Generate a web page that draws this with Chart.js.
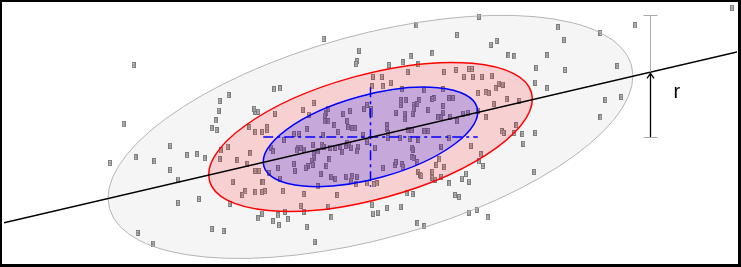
<!DOCTYPE html>
<html>
<head>
<meta charset="utf-8">
<script src="https://cdn.jsdelivr.net/npm/chart.js@4/dist/chart.umd.min.js"></script>
<style>
  html, body { margin: 0; padding: 0; background: #ffffff; }
  #wrap { position: relative; width: 741px; height: 267px; }
</style>
</head>
<body>
<div id="wrap"><canvas id="c"></canvas></div>
<script>
// ---- data ----
const pointX = [480,417,458,492,498,510,516,538,433,411,403,389,419,560,566,549,567,323,359,357,
  131,227,218,217,214,210,215,121,107,133,152,168,168,135,151,176,176,197,185,195,
  203,219,226,249,218,236,246,254,258,231,261,244,241,254,261,264,228,257,261,268,
  277,272,278,284,287,300,303,328,331,306,314,210,222,603,638,620,624,608,603,736,
  537,549,483,493,500,504,497,487,490,508,521,495,487,518,503,505,516,524,537,525,
  356,408,445,457,470,473,465,474,479,373,382,391,372,383,402,425,444,454,450,435,
  420,406,401,401,414,418,429,444,414,413,396,405,405,444,439,442,451,458,464,469,
  479,367,364,371,371,350,343,326,324,328,313,302,308,324,334,347,348,352,355,338,
  363,387,387,388,408,412,425,429,450,400,388,410,419,306,298,293,283,322,321,312,
  303,297,300,296,317,323,330,335,340,346,347,349,351,358,357,367,375,342,313,313,
  311,312,307,305,293,294,277,326,329,331,335,320,346,352,357,412,413,442,412,414,
  418,395,396,402,383,403,419,421,422,433,437,440,445,442,433,436,472,374,377,367,
  356,351,337,317,303,282,279,262,254,261,266,266,254,257,274,273,279,253,270,272,
  328,433,480,482,484,467,470,463,450,456,413,407,536,460,478,470,489,418,425,372,
  373,378,387,401,248];
const pointY = [254,245,235,225,229,214,213,201,216,213,207,204,205,243,230,214,199,231,219,208,
  204,173,167,157,147,139,137,143,103,109,105,121,96,31,20,86,62,66,111,112,
  108,116,120,113,107,106,102,95,95,84,84,74,70,73,73,74,61,46,51,93,
  49,43,39,53,45,59,53,58,47,37,22,35,33,237,245,203,171,168,150,263,
  186,180,192,193,185,184,180,176,175,169,167,164,150,142,136,134,134,133,134,123,
  205,197,197,199,200,200,192,192,175,192,192,186,182,182,179,178,179,170,170,170,
  168,168,168,163,163,164,158,162,159,154,155,154,148,155,150,150,151,146,154,155,
  157,163,159,159,154,157,154,155,152,159,165,158,153,146,142,146,140,139,139,135,
  132,142,138,134,137,137,136,136,129,129,129,128,127,138,133,133,127,132,122,122,
  117,119,119,116,115,120,119,119,120,121,124,122,119,120,115,125,119,114,112,108,
  105,101,100,98,102,95,98,100,107,89,87,92,89,90,89,119,117,120,109,108,
  104,101,104,102,98,99,94,91,90,94,101,107,99,89,88,86,121,81,82,82,
  81,85,70,79,71,74,87,83,135,135,137,140,156,156,154,179,180,159,119,115,
  146,169,105,112,100,92,84,87,82,70,71,72,94,68,55,52,47,41,38,60,
  51,52,57,58,140];

// ellipse parameters: [outer, middle, inner]
const ellipseCenter = [370.5, 130];
const ellipseSemiMajor = [274, 169, 112];
const ellipseSemiMinor = [105, 64, 43];
const ellipseAngleDeg = [15.7, 15.7, 15.7];
const ellipseFill = ['rgba(0,0,0,0.04)', 'rgba(255,0,0,0.15)', 'rgba(0,0,255,0.2)'];
const ellipseStroke = ['#b4b4b4', '#ff0000', '#0000ff'];

// regression line y = a + b x
const regIntercept = [41.5];
const regSlope = [0.2375];
const regXRange = [0, 741];

// r marker position (x) and label
const rMarkerX = [653];
const rLabel = ['r'];

// axis extents
const xRange = [0, 741];
const yRange = [0, 267];

// ---- build ----
function makeGlyph() {
  const c = document.createElement('canvas');
  c.width = 4; c.height = 6;
  const g = c.getContext('2d');
  g.fillStyle = '#808080'; g.fillRect(0, 0, 4, 6);
  g.fillStyle = '#cccccc'; g.fillRect(1, 1, 2, 1); g.fillRect(1, 4, 2, 1);
  g.fillStyle = '#a4a4a4'; g.fillRect(1, 2, 2, 2);
  return c;
}
const glyph = makeGlyph();

const scatterData = pointX.map((x, i) => ({ x: x, y: pointY[i] }));
const regData = regXRange.map(x => ({ x: x, y: regIntercept[0] + regSlope[0] * x }));

function ellipsePath(ctx, xs, ys, i) {
  const cx = xs.getPixelForValue(ellipseCenter[0]);
  const cy = ys.getPixelForValue(ellipseCenter[1]);
  const sx = xs.getPixelForValue(1) - xs.getPixelForValue(0);
  const sy = ys.getPixelForValue(0) - ys.getPixelForValue(1);
  ctx.save();
  ctx.translate(cx, cy);
  ctx.scale(sx, -sy);
  ctx.rotate(ellipseAngleDeg[i] * Math.PI / 180);
  ctx.beginPath();
  ctx.ellipse(0, 0, ellipseSemiMajor[i], ellipseSemiMinor[i], 0, 0, Math.PI * 2);
  ctx.restore();
}

const ellipsePlugin = {
  id: 'ellipses',
  afterDatasetDraw(chart, args) {
    if (args.meta.label !== 'points') return;
    const ctx = chart.ctx;
    const xs = chart.scales.x, ys = chart.scales.y;
    for (let i = 0; i < ellipseSemiMajor.length; i++) {
      ellipsePath(ctx, xs, ys, i);
      ctx.fillStyle = ellipseFill[i];
      ctx.fill();
    }
    for (let i = 0; i < ellipseSemiMajor.length; i++) {
      ellipsePath(ctx, xs, ys, i);
      ctx.lineWidth = i === 0 ? 1 : 1.5;
      ctx.strokeStyle = ellipseStroke[i];
      ctx.stroke();
    }
    // crosshair of the inner ellipse
    const k = ellipseSemiMajor.length - 1;
    const t = ellipseAngleDeg[k] * Math.PI / 180;
    const a = ellipseSemiMajor[k], b = ellipseSemiMinor[k];
    const W = Math.sqrt(a * a * Math.cos(t) ** 2 + b * b * Math.sin(t) ** 2);
    const H = Math.sqrt(a * a * Math.sin(t) ** 2 + b * b * Math.cos(t) ** 2);
    const c0 = ellipseCenter[0], c1 = ellipseCenter[1];
    ctx.save();
    ctx.strokeStyle = '#0000ff';
    ctx.lineWidth = 1.5;
    ctx.setLineDash([10, 4, 3, 4]);
    ctx.beginPath();
    ctx.moveTo(xs.getPixelForValue(c0 - W), ys.getPixelForValue(c1));
    ctx.lineTo(xs.getPixelForValue(c0 + W), ys.getPixelForValue(c1));
    ctx.moveTo(xs.getPixelForValue(c0), ys.getPixelForValue(c1 + H));
    ctx.lineTo(xs.getPixelForValue(c0), ys.getPixelForValue(c1 - H));
    ctx.stroke();
    ctx.restore();
  },
  afterDraw(chart) {
    const ctx = chart.ctx;
    const xs = chart.scales.x, ys = chart.scales.y;
    // r marker
    const t = ellipseAngleDeg[0] * Math.PI / 180;
    const a = ellipseSemiMajor[0], b = ellipseSemiMinor[0];
    const Hout = Math.sqrt(a * a * Math.sin(t) ** 2 + b * b * Math.cos(t) ** 2);
    const mx = rMarkerX[0];
    const px = Math.round(xs.getPixelForValue(mx)) + 0.5;
    const yTop = ys.getPixelForValue(ellipseCenter[1] + Hout);
    const yReg = ys.getPixelForValue(regIntercept[0] + regSlope[0] * mx);
    const yBot = ys.getPixelForValue(ellipseCenter[1]);
    ctx.save();
    ctx.strokeStyle = '#aaaaaa';
    ctx.lineWidth = 1;
    ctx.beginPath();
    ctx.moveTo(px, yTop); ctx.lineTo(px, yReg);
    ctx.moveTo(px - 7, Math.round(yTop) + 0.5); ctx.lineTo(px + 7, Math.round(yTop) + 0.5);
    ctx.moveTo(px - 7, Math.round(yBot) + 0.5); ctx.lineTo(px + 7, Math.round(yBot) + 0.5);
    ctx.stroke();
    ctx.strokeStyle = '#000000';
    ctx.lineWidth = 1.3;
    ctx.beginPath();
    ctx.moveTo(px, yBot); ctx.lineTo(px, yReg + 1);
    ctx.moveTo(px - 3.5, yReg + 6); ctx.lineTo(px, yReg + 1); ctx.lineTo(px + 3.5, yReg + 6);
    ctx.stroke();
    ctx.fillStyle = '#000000';
    ctx.font = '20px "Liberation Sans", Arial, sans-serif';
    ctx.textBaseline = 'middle';
    ctx.textAlign = 'left';
    ctx.fillText(rLabel[0], px + 23, yReg + 20);
    // frame
    const w = chart.width, h = chart.height;
    ctx.fillStyle = '#000000';
    ctx.fillRect(0, 0, w, 2);
    ctx.fillRect(0, 0, 2, h);
    ctx.fillRect(w - 3, 0, 3, h);
    ctx.fillRect(0, h - 3, w, 3);
    ctx.restore();
  }
};

new Chart(document.getElementById('c'), {
  type: 'scatter',
  data: {
    datasets: [
      {
        label: 'points',
        data: scatterData,
        pointStyle: glyph,
        pointRadius: 3,
        pointHoverRadius: 3,
        order: 1
      },
      {
        label: 'regression',
        data: regData,
        showLine: true,
        borderColor: '#000000',
        borderWidth: 1.4,
        pointRadius: 0,
        pointHoverRadius: 0,
        fill: false,
        order: 0
      }
    ]
  },
  options: {
    responsive: true,
    maintainAspectRatio: false,
    animation: false,
    events: [],
    layout: { padding: 0 },
    plugins: { legend: { display: false }, tooltip: { enabled: false } },
    scales: {
      x: { type: 'linear', min: xRange[0], max: xRange[1], display: false },
      y: { type: 'linear', min: yRange[0], max: yRange[1], display: false }
    }
  },
  plugins: [ellipsePlugin]
});
</script>
</body>
</html>
